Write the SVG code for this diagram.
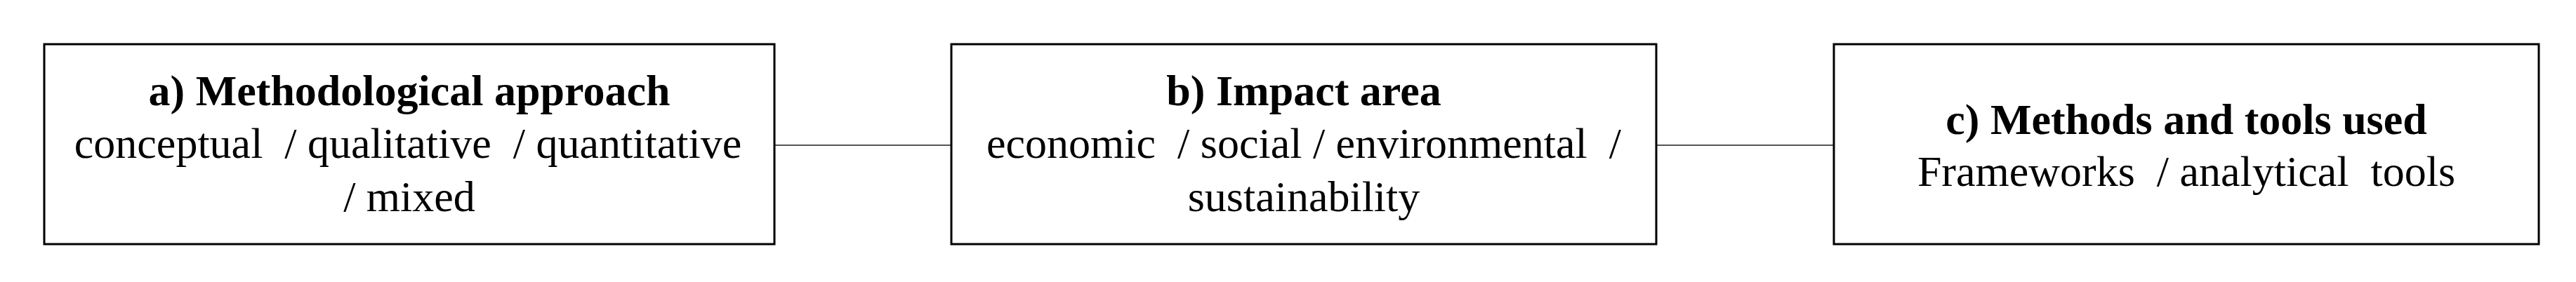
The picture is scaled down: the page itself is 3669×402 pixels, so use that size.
<svg xmlns="http://www.w3.org/2000/svg" width="3669" height="402" viewBox="0 0 3669 402">
<style>
.box{fill:#fff;stroke:#000;stroke-width:3}
.t{font-family:"Liberation Serif","Times New Roman",serif;font-size:62px;fill:#000;text-anchor:middle;white-space:pre}
.b{font-weight:bold}
.conn{stroke:#555;stroke-width:2;fill:none}
</style>
<rect width="3669" height="402" fill="#fff"/>
<g id="connectors">
<line class="conn" x1="1103" y1="207" x2="1355" y2="207"/>
<line class="conn" x1="2359" y1="207" x2="2612" y2="207"/>
</g>
<g id="node-a">
<rect class="box" x="63" y="63" width="1040" height="285"/>
<text class="t b" x="583" y="150">a) Methodological approach</text>
<text class="t" x="581" y="225">conceptual  / qualitative  / quantitative</text>
<text class="t" x="583" y="301">/ mixed</text>
</g>
<g id="node-b">
<rect class="box" x="1355" y="63" width="1004" height="285"/>
<text class="t b" x="1857" y="150">b) Impact area</text>
<text class="t" x="1857" y="225">economic  / social / environmental  /</text>
<text class="t" x="1857" y="301">sustainability</text>
</g>
<g id="node-c">
<rect class="box" x="2612" y="63" width="1004" height="285"/>
<text class="t b" x="3114" y="191">c) Methods and tools used</text>
<text class="t" x="3114" y="265">Frameworks  / analytical  tools</text>
</g>
</svg>
